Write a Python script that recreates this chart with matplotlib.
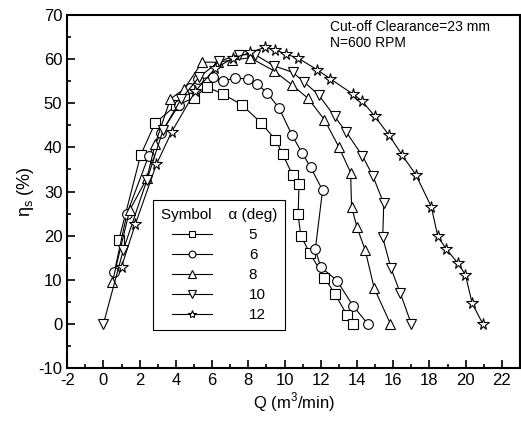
import numpy as np
import matplotlib
matplotlib.use("Agg")
import matplotlib.pyplot as plt
from matplotlib.ticker import MultipleLocator

plt.rcParams['font.family'] = ['Liberation Sans', 'DejaVu Sans']
plt.rcParams['mathtext.fontset'] = 'custom'
plt.rcParams['mathtext.rm'] = 'Liberation Sans'
plt.rcParams['axes.unicode_minus'] = False

# alpha = 5 deg
q5 = [0.85, 2.05, 2.85, 4.0, 5.0, 5.7, 6.6, 7.65, 8.7, 9.5, 9.9, 10.45, 10.8, 10.75, 10.9, 11.4, 12.2, 12.8, 13.45, 13.8]
e5 = [19, 38.2, 45.5, 49.5, 51.2, 53.7, 52.1, 49.6, 45.6, 41.7, 38.4, 33.7, 31.6, 24.8, 20, 16, 10.5, 6.7, 2, 0]
# alpha = 6 deg
q6 = [0.6, 1.3, 2.5, 3.2, 4.15, 4.77, 5.23, 6.05, 6.6, 7.28, 8.0, 8.47, 9.03, 9.7, 10.41, 10.96, 11.44, 12.1, 11.7, 12.0, 12.9, 13.78, 14.6]
e6 = [11.7, 25, 38.1, 43.3, 49.5, 53.5, 55.5, 55.9, 55.1, 55.7, 55.5, 54.4, 52.4, 48.9, 42.8, 38.8, 35.5, 30.3, 16.9, 12.9, 9.8, 4.1, 0]
# alpha = 8 deg
q8 = [0.5, 1.45, 2.4, 2.85, 3.7, 4.45, 5.45, 6.35, 7.1, 8.1, 9.4, 10.4, 11.3, 12.2, 13.0, 13.65, 13.7, 14.0, 14.45, 14.95, 15.85]
e8 = [9.6, 25.8, 33, 40.7, 51.0, 53.2, 59.3, 59.3, 59.8, 60.3, 57.4, 54.2, 51.1, 46.3, 40.1, 34.3, 26.6, 21.9, 16.8, 8.1, 0]
# alpha = 10 deg
q10 = [0.0, 1.1, 2.4, 3.3, 4.3, 5.3, 6.4, 7.46, 8.38, 9.4, 10.45, 11.06, 11.88, 12.77, 13.42, 14.3, 14.87, 15.48, 15.42, 15.88, 16.4, 17.0]
e10 = [0, 16.8, 32.6, 44, 51, 56, 59.5, 61, 61, 58.5, 57, 54.9, 51.9, 47, 43.4, 38.1, 33.6, 27.3, 19.6, 12.6, 6.9, 0]
# alpha = 12 deg
q12 = [1.0, 1.77, 2.93, 3.78, 5.07, 6.17, 7.15, 8.1, 8.94, 9.49, 10.1, 10.76, 11.8, 12.5, 13.77, 14.28, 15.0, 15.78, 16.49, 17.25, 18.1, 18.46, 18.92, 19.59, 19.99, 20.36, 20.95]
e12 = [13, 22.7, 36.2, 43.6, 52.7, 57.9, 60.2, 61.5, 62.7, 62.1, 61.1, 60.2, 57.6, 55.6, 52.1, 50.5, 47, 42.7, 38.3, 33.8, 26.6, 19.9, 17, 13.7, 11.1, 4.7, 0]

alphas = ['5', '6', '8', '10', '12']
series = [(q5, e5, 's', 6.5), (q6, e6, 'o', 7), (q8, e8, '^', 7.5), (q10, e10, 'v', 7.5), (q12, e12, '*', 8.5)]

fig = plt.figure(figsize=(5.21, 4.28), dpi=100)
ax = fig.add_axes([0.129, 0.14, 0.869, 0.825])

handles = []
for (q, e, m, ms), lab in zip(series, alphas):
    ax.plot(q, e, '-', color='black', lw=0.8, marker=m, ms=ms,
            mfc='white', mec='black', mew=0.8)
    h, = ax.plot([], [], '-', color='black', lw=0.8, marker=m, ms=ms * 0.7,
                 mfc='white', mec='black', mew=0.8, label=lab)
    handles.append(h)

ax.set_xlim(-2, 23)
ax.set_ylim(-10, 70)
ax.xaxis.set_major_locator(MultipleLocator(2))
ax.xaxis.set_minor_locator(MultipleLocator(1))
ax.yaxis.set_major_locator(MultipleLocator(10))
ax.yaxis.set_minor_locator(MultipleLocator(5))
ax.tick_params(which='major', direction='in', length=6, width=1.2, labelsize=12)
ax.tick_params(which='minor', direction='in', length=3, width=1.2)
for s in ax.spines.values():
    s.set_linewidth(1.5)

ax.set_xlabel('Q (m$^3$/min)', fontsize=12, labelpad=2)
ax.set_ylabel('η$_\\mathrm{s}$ (%)', fontsize=13, labelpad=2)

ax.text(0.58, 0.985, 'Cut-off Clearance=23 mm\nN=600 RPM', transform=ax.transAxes,
        ha='left', va='top', fontsize=10, linespacing=1.15)

leg = ax.legend(handles=handles, title='Symbol    α (deg)', loc='lower left',
                bbox_to_anchor=(0.19, 0.108), borderaxespad=0, fontsize=11,
                title_fontsize=11, handlelength=2.6, handletextpad=2.4,
                labelspacing=0.4, fancybox=False, edgecolor='black',
                framealpha=1, borderpad=0.5)
leg.get_frame().set_linewidth(0.8)

fig.savefig('out.png', dpi=100)
